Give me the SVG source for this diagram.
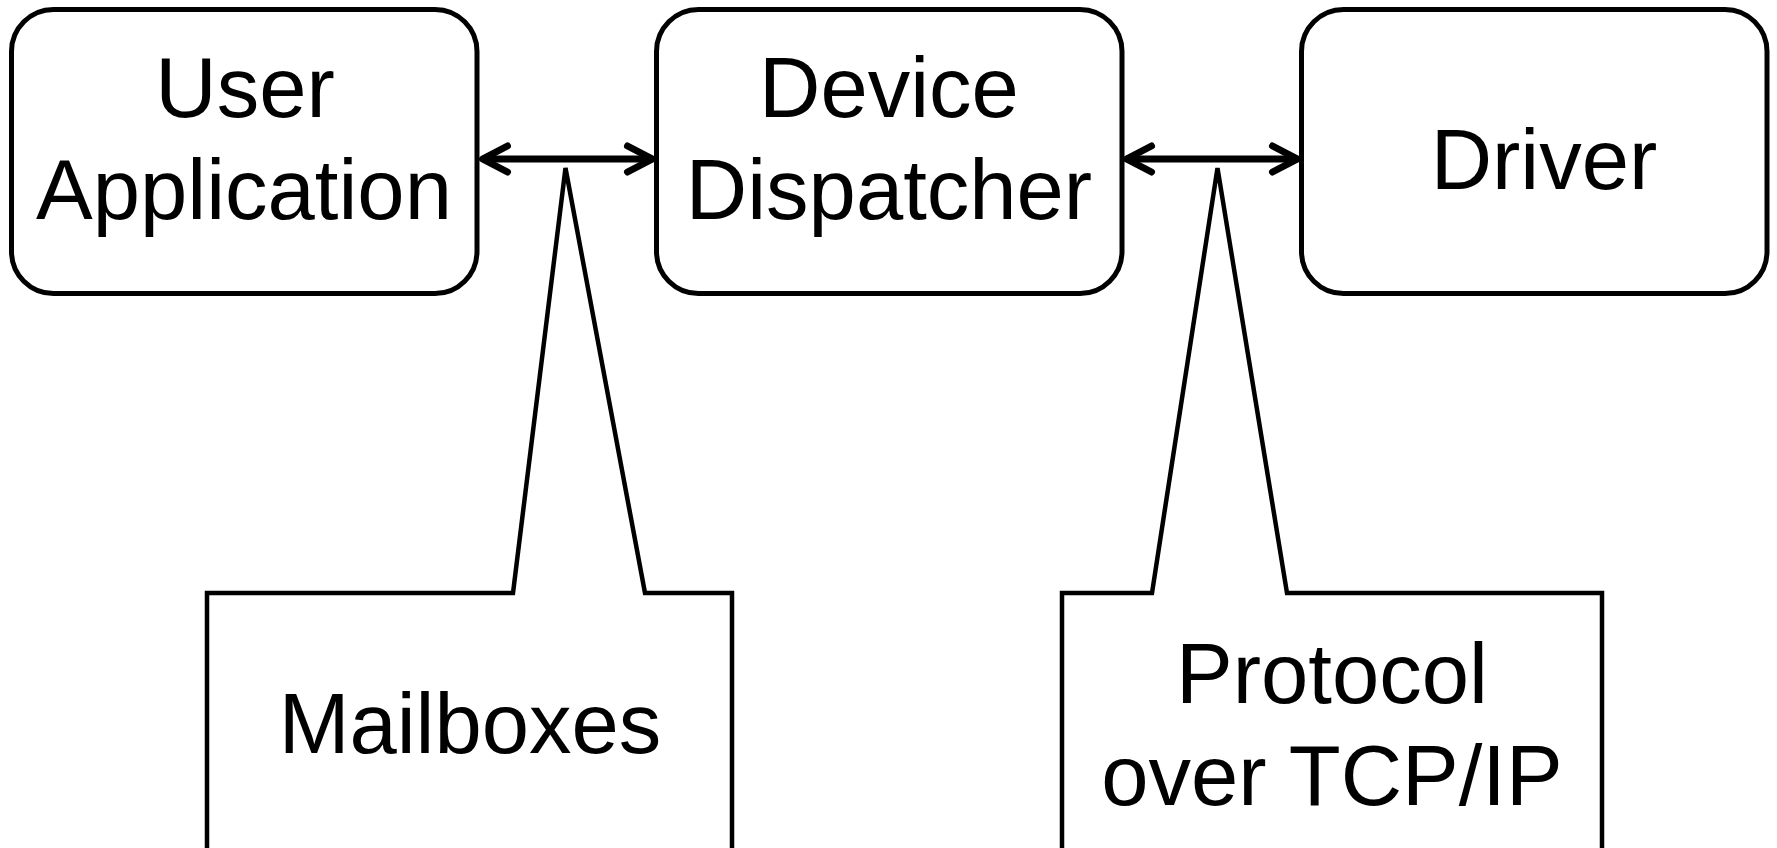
<svg xmlns="http://www.w3.org/2000/svg" width="1777" height="848" viewBox="0 0 1777 848">
  <style>
    .node { fill: #ffffff; stroke: #000000; stroke-width: 5; }
    .callout { fill: #ffffff; stroke: #000000; stroke-width: 4.5; stroke-linejoin: miter; }
    .label { font-family: "Liberation Sans", Arial, sans-serif; font-size: 85px; fill: #000000; text-anchor: middle; }
    .link { stroke: #000000; stroke-width: 7; fill: none; }
  </style>
  <defs>
    <marker id="chevron" viewBox="0 0 40 40" refX="33" refY="20" markerWidth="40" markerHeight="40" markerUnits="userSpaceOnUse" orient="auto-start-reverse" overflow="visible">
      <path d="M 8 7 L 33 20 L 8 33" fill="none" stroke="#000000" stroke-width="7" stroke-linecap="round" stroke-linejoin="round"/>
    </marker>
  </defs>

  <rect width="1777" height="848" fill="#ffffff"/>

  <!-- callouts (drawn first so the spikes sit behind the links) -->
  <g id="mailboxes">
    <path class="callout" d="M 207 870 L 207 593 L 513 593 L 565.5 168 L 645 593 L 732 593 L 732 870"/>
    <text class="label" x="470" y="753">Mailboxes</text>
  </g>
  <g id="protocol">
    <path class="callout" d="M 1062 870 L 1062 593 L 1152 593 L 1217.5 168 L 1287 593 L 1602 593 L 1602 870"/>
    <text class="label" x="1332" y="703">Protocol</text>
    <text class="label" x="1332" y="805">over TCP/IP</text>
  </g>

  <g id="user-application">
    <rect class="node" x="11.5" y="9.5" width="465.5" height="284" rx="42" ry="42"/>
    <text class="label" x="245" y="117">User</text>
    <text class="label" x="244" y="219">Application</text>
  </g>

  <g id="device-dispatcher">
    <rect class="node" x="656.5" y="9.5" width="465.5" height="284" rx="42" ry="42"/>
    <text class="label" x="889" y="117">Device</text>
    <text class="label" x="889" y="219">Dispatcher</text>
  </g>

  <g id="driver">
    <rect class="node" x="1301.5" y="9.5" width="465.5" height="284" rx="42" ry="42"/>
    <text class="label" x="1544" y="189">Driver</text>
  </g>

  <g id="connectors">
    <line class="link" x1="482.5" y1="159" x2="652.5" y2="159" marker-start="url(#chevron)" marker-end="url(#chevron)"/>
    <line class="link" x1="1126.5" y1="159" x2="1297.5" y2="159" marker-start="url(#chevron)" marker-end="url(#chevron)"/>
  </g>
</svg>
